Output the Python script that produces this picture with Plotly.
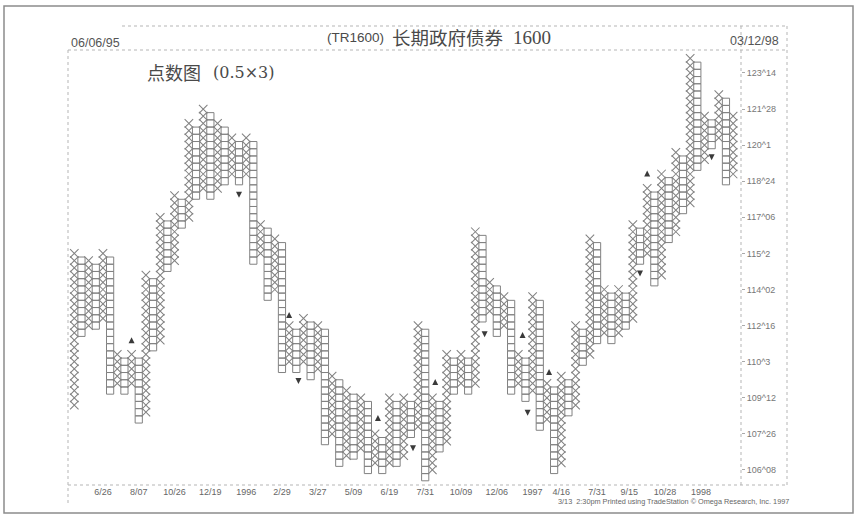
import plotly.graph_objects as go

W, H = 859, 522
PL, PR, PT, PB = 68, 741, 50, 485  # plot area in pixels

BASE = 106.25   # price of box row 0
BOX = 0.3125    # box size (10/32)

# Point & figure columns (alternating X / O), box rows relative to BASE
col_type = list("XO" * 46 + "X")
col_low = [9, 19, 20, 20, 21, 11, 12, 11, 12, 7,
           8, 17, 18, 28, 29, 34, 35, 38, 39, 38,
           39, 40, 41, 40, 41, 29, 30, 24, 25, 14,
           15, 14, 15, 13, 14, 4, 5, 1, 2, 2,
           3, 0, 1, 0, 1, 1, 2, 5, 6, -1,
           0, 3, 4, 11, 12, 11, 12, 21, 22, 19,
           20, 11, 12, 10, 11, 6, 7, 0, 1, 8,
           9, 15, 16, 18, 19, 18, 19, 20, 21, 29,
           30, 26, 27, 32, 33, 36, 37, 42, 43, 45,
           46, 40, 41]
col_high = [30, 29, 29, 28, 30, 29, 16, 15, 16, 15,
            27, 26, 35, 34, 38, 37, 48, 47, 50, 49,
            48, 47, 46, 45, 46, 45, 34, 33, 32, 31,
            20, 19, 21, 20, 20, 19, 13, 12, 11, 10,
            10, 9, 5, 4, 10, 9, 10, 9, 20, 19,
            10, 9, 16, 15, 16, 15, 33, 32, 26, 25,
            24, 23, 16, 15, 24, 23, 12, 11, 13, 12,
            20, 19, 32, 31, 25, 24, 25, 24, 34, 33,
            39, 38, 41, 40, 44, 43, 57, 56, 49, 48,
            52, 51, 49]

# signal arrows (column position, box row, direction)
arrow_col = [9, 24, 31, 32.3, 43.4, 48.3, 51.4, 58.3, 63.6, 64.3, 67.3, 80, 81, 90]
arrow_row = [18.4, 37.7, 21.9, 11.9, 7.6, 2.6, 12.6, 18.4, 19.1, 7.5, 14, 26.8, 41.5, 42.9]
arrow_dir = ["up", "down", "up", "down", "up", "down", "up", "down", "up", "down", "up", "down", "up", "down"]

ytick_vals = [106.25, 107.8125, 109.375, 110.9375, 112.5, 114.0625,
              115.625, 117.1875, 118.75, 120.3125, 121.875, 123.4375]
ytick_text = ["106^08", "107^26", "109^12", "110^3", "112^16", "114^02",
              "115^2", "117^06", "118^24", "120^1", "121^28", "123^14"]

xtick_cols = [5, 10, 15, 20, 25, 30, 35, 40, 45, 50, 55, 60, 65, 69, 74, 78.5, 83.5, 88.5]
xtick_text = ["6/26", "8/07", "10/26", "12/19", "1996", "2/29", "3/27", "5/09", "6/19",
              "7/31", "10/09", "12/06", "1997", "4/16", "7/31", "9/15", "10/28", "1998"]

xs_x, ys_x, xs_o, ys_o = [], [], [], []
for i, (t, lo, hi) in enumerate(zip(col_type, col_low, col_high)):
    c = i + 1
    for r in range(lo, hi + 1):
        if t == "X":
            xs_x.append(c); ys_x.append(BASE + r * BOX)
        else:
            xs_o.append(c); ys_o.append(BASE + r * BOX)

up_x = [c for c, d in zip(arrow_col, arrow_dir) if d == "up"]
up_y = [BASE + r * BOX for r, d in zip(arrow_row, arrow_dir) if d == "up"]
dn_x = [c for c, d in zip(arrow_col, arrow_dir) if d == "down"]
dn_y = [BASE + r * BOX for r, d in zip(arrow_row, arrow_dir) if d == "down"]

MARK = "#828282"
fig = go.Figure()
fig.add_trace(go.Scatter(x=xs_x, y=ys_x, mode="markers", hoverinfo="skip",
                         marker=dict(symbol="x-thin", size=8.5, line=dict(color=MARK, width=1.05))))
fig.add_trace(go.Scatter(x=xs_o, y=ys_o, mode="markers", hoverinfo="skip",
                         marker=dict(symbol="square-open", size=7.2, color=MARK, line=dict(color=MARK, width=1))))
fig.add_trace(go.Scatter(x=up_x, y=up_y, mode="markers", hoverinfo="skip",
                         marker=dict(symbol="arrow-up", size=6, color="#3a3a3a", line=dict(width=0))))
fig.add_trace(go.Scatter(x=dn_x, y=dn_y, mode="markers", hoverinfo="skip",
                         marker=dict(symbol="arrow-down", size=6, color="#3a3a3a", line=dict(width=0))))


def px_x(px):
    return (px - PL) / (PR - PL)


def px_y(py):
    return (PB - py) / (PB - PT)


shapes = []
DOT = dict(color="#b5b5b5", width=1, dash="dot")
shapes.append(dict(type="line", xref="paper", yref="paper", x0=px_x(PL), x1=px_x(787), y0=px_y(50), y1=px_y(50), line=DOT))
shapes.append(dict(type="line", xref="paper", yref="paper", x0=px_x(122), x1=px_x(787), y0=px_y(26), y1=px_y(26), line=DOT))
shapes.append(dict(type="line", xref="paper", yref="paper", x0=px_x(PL), x1=px_x(787), y0=px_y(485), y1=px_y(485), line=DOT))
shapes.append(dict(type="line", xref="paper", yref="paper", x0=px_x(PL), x1=px_x(PL), y0=px_y(50), y1=px_y(505), line=DOT))
shapes.append(dict(type="line", xref="paper", yref="paper", x0=px_x(741), x1=px_x(741), y0=px_y(26), y1=px_y(485), line=DOT))
shapes.append(dict(type="line", xref="paper", yref="paper", x0=px_x(787), x1=px_x(787), y0=px_y(26), y1=px_y(485), line=DOT))
shapes.append(dict(type="rect", xref="paper", yref="paper", x0=px_x(4), x1=px_x(853), y0=px_y(6), y1=px_y(513),
                   line=dict(color="#8c8c8c", width=1.5)))

TXT = "#4a4a4a"
anns = [
    dict(text="06/06/95", x=px_x(69), y=px_y(43), xanchor="left", yanchor="middle",
         font=dict(family="Liberation Sans", size=12.5, color="#555555")),
    dict(text="03/12/98", x=px_x(781), y=px_y(41), xanchor="right", yanchor="middle",
         font=dict(family="Liberation Sans", size=12.5, color="#555555")),
    dict(text="(TR1600)", x=px_x(386), y=px_y(38), xanchor="right", yanchor="middle",
         font=dict(family="Liberation Sans", size=13.5, color=TXT)),
    dict(text="长期政府债券", x=px_x(390), y=px_y(37), xanchor="left", yanchor="middle",
         font=dict(family="Noto Sans CJK SC", size=18.5, color=TXT)),
    dict(text="1600", x=px_x(511), y=px_y(37), xanchor="left", yanchor="middle",
         font=dict(family="Liberation Serif", size=19, color=TXT)),
    dict(text="点数图", x=px_x(145), y=px_y(72), xanchor="left", yanchor="middle",
         font=dict(family="Noto Sans CJK SC", size=18, color=TXT)),
    dict(text="(0.5×3)", x=px_x(211), y=px_y(72), xanchor="left", yanchor="middle",
         font=dict(family="DejaVu Serif", size=16, color=TXT)),
    dict(text="3/13  2:30pm Printed using TradeStation © Omega Research, Inc. 1997",
         x=px_x(556), y=px_y(502), xanchor="left", yanchor="middle",
         font=dict(family="Liberation Sans", size=7.3, color="#666666")),
]
for a in anns:
    a.update(xref="paper", yref="paper", showarrow=False)

fig.update_layout(
    width=W, height=H,
    margin=dict(l=PL, r=W - PR, t=PT, b=H - PB),
    paper_bgcolor="white", plot_bgcolor="white",
    showlegend=False,
    shapes=shapes, annotations=anns,
    xaxis=dict(range=[0.12, 94.1], showgrid=False, zeroline=False, showline=False,
               tickmode="array", tickvals=xtick_cols, ticktext=xtick_text,
               ticks="", tickfont=dict(family="Liberation Sans", size=9, color="#666666")),
    yaxis=dict(range=[105.60, 124.43], side="right", showgrid=False, zeroline=False, showline=False,
               tickmode="array", tickvals=ytick_vals, ticktext=ytick_text,
               ticks="outside", ticklen=3, tickcolor="#aaaaaa",
               tickfont=dict(family="Liberation Sans", size=9, color="#777777")),
)

fig.write_html("out.html", config={"displayModeBar": False},
               post_script="document.body.style.margin='0';")
